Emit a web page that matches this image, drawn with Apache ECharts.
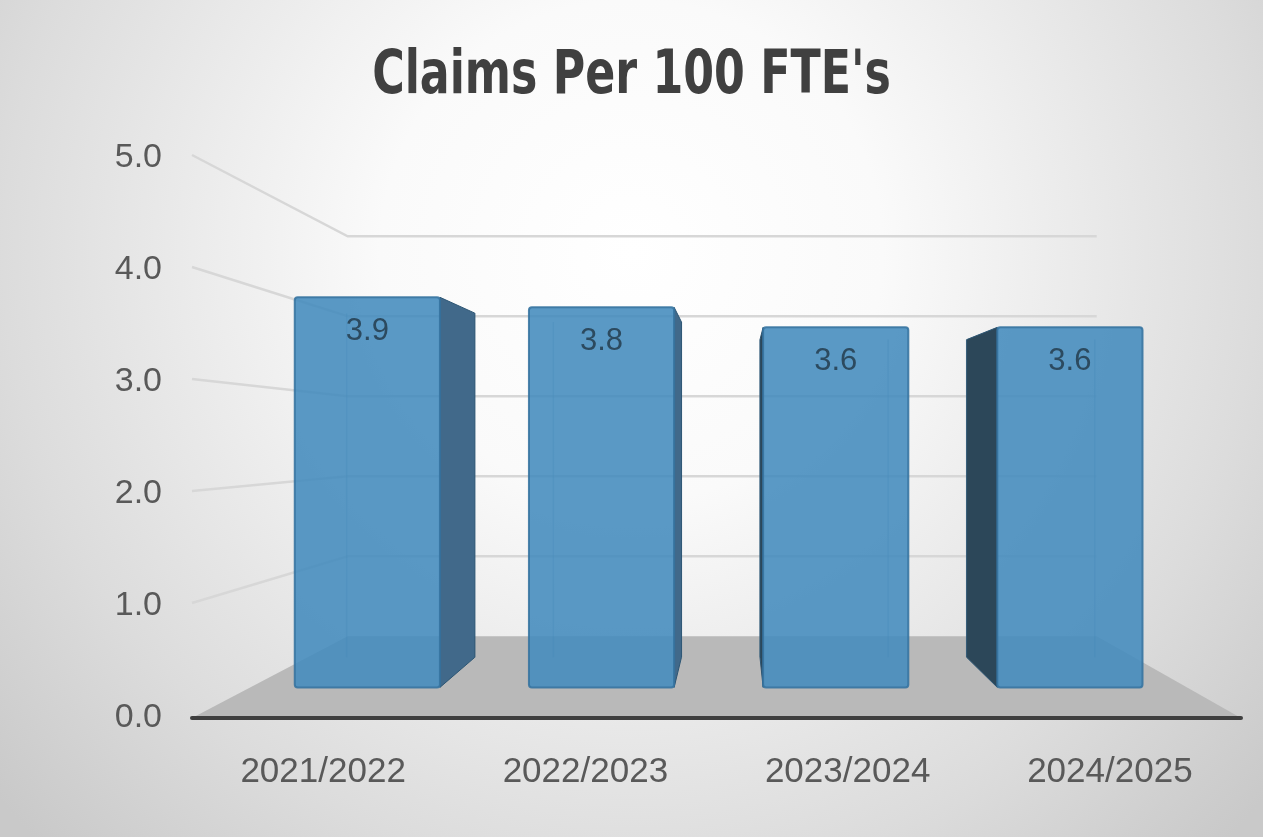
<!DOCTYPE html>
<html>
<head>
<meta charset="utf-8">
<title>Claims Per 100 FTE's</title>
<script src="https://cdn.jsdelivr.net/npm/echarts@6/dist/echarts.min.js"></script>
<style>
  html, body { margin: 0; padding: 0; }
  #chart { width: 1263px; height: 837px; }
</style>
</head>
<body>
<div id="chart"></div>
<script>
var categories = ["2021/2022", "2022/2023", "2023/2024", "2024/2025"];
var claims = [3.9, 3.8, 3.6, 3.6];
var yTicks = [0, 1, 2, 3, 4, 5];
var titleText = "Claims Per 100 FTE's";

// fake 3d: vanishing point (fraction of the grid) and depth factors
var VP = [0.519, 0.489];
var BAR_FRONT = 0.893;
var BAR_BACK = 0.788;
var WALL = 0.714;
var labelFont = '"Liberation Sans", Arial, sans-serif';

function proj(rect, x, y, s) {
  var vx = rect.x + rect.width * VP[0];
  var vy = rect.y + rect.height * VP[1];
  return [vx + (x - vx) * s, vy + (y - vy) * s];
}

function renderWall(params, api) {
  var rect = params.coordSys;
  var v = api.value(1);
  var y = api.coord([0, v])[1];
  var left = rect.x;
  var right = rect.x + rect.width;
  var bl = proj(rect, left, y, WALL);
  var br = proj(rect, right, y, WALL);
  if (v === yTicks[0]) {
    return {
      type: "polygon",
      shape: { points: [[left, y], [right, y], br, bl] },
      style: { fill: "#b9b9b9" }
    };
  }
  return {
    type: "polyline",
    shape: { points: [[left, y - 3], bl, br] },
    style: { stroke: "#d7d7d7", lineWidth: 2.5, fill: null }
  };
}

function renderBar(params, api) {
  var rect = params.coordSys;
  var idx = api.value(0);
  var val = api.value(1);
  var top = api.coord([idx, val]);
  var base = api.coord([idx, 0]);
  var half = api.size([1, 0])[0] * 0.31;
  var xl = top[0] - half, xr = top[0] + half;
  var yt = top[1], yb = base[1];
  var vx = rect.x + rect.width * VP[0];

  var ftl = proj(rect, xl, yt, BAR_FRONT);
  var fbr = proj(rect, xr, yb, BAR_FRONT);
  var btl = proj(rect, xl, yt, BAR_BACK);
  var bbr = proj(rect, xr, yb, BAR_BACK);

  var children = [];
  // back edges, seen faintly through the front face
  children.push({
    type: "polyline",
    shape: { points: [[btl[0], btl[1]], [btl[0], bbr[1]]] },
    style: { stroke: "rgba(40,90,130,0.25)", lineWidth: 1.5 }
  });
  children.push({
    type: "polyline",
    shape: { points: [[bbr[0], btl[1]], [bbr[0], bbr[1]]] },
    style: { stroke: "rgba(40,90,130,0.25)", lineWidth: 1.5 }
  });
  var side = null;
  if (fbr[0] < vx) {
    side = { x: xr, color: "#41698a" };
  } else if (ftl[0] > vx) {
    side = { x: xl, color: "#2c4759" };
  }
  if (side) {
    children.push({
      type: "polygon",
      shape: {
        points: [
          proj(rect, side.x, yt, BAR_FRONT),
          proj(rect, side.x, yt, BAR_BACK),
          proj(rect, side.x, yb, BAR_BACK),
          proj(rect, side.x, yb, BAR_FRONT)
        ]
      },
      style: { fill: side.color, stroke: "#2d5674", lineWidth: 1 }
    });
  }
  children.push({
    type: "rect",
    shape: { x: ftl[0], y: ftl[1], width: fbr[0] - ftl[0], height: fbr[1] - ftl[1], r: 3 },
    style: { fill: "#438bbd", opacity: 0.88, stroke: "#35739f", lineWidth: 2 }
  });
  children.push({
    type: "text",
    style: {
      text: val.toFixed(1),
      x: (ftl[0] + fbr[0]) / 2,
      y: ftl[1] + 34,
      align: "center",
      verticalAlign: "middle",
      fill: "#2c4a5f",
      fontSize: 31,
      fontFamily: labelFont
    }
  });
  return { type: "group", children: children };
}

var chart = echarts.init(document.getElementById("chart"));
var option = {
  animation: false,
  backgroundColor: {
    type: "radial",
    x: 0.5,
    y: 0.3,
    r: 1,
    colorStops: [
      { offset: 0, color: "#ffffff" },
      { offset: 0.3, color: "#fafafa" },
      { offset: 0.75, color: "#dcdcdc" },
      { offset: 1, color: "#c9c9c9" }
    ]
  },
  graphic: [
    {
      type: "text",
      x: chart.getWidth() / 2,
      y: 47,
      scaleX: 0.82,
      style: {
        text: titleText,
        align: "center",
        verticalAlign: "top",
        fontFamily: '"DejaVu Sans Condensed", "DejaVu Sans", sans-serif',
        fontWeight: "bold",
        fontSize: 60,
        fill: "#404040"
      }
    }
  ],
  grid: { left: 192, right: 22, top: 158, bottom: 119 },
  xAxis: {
    type: "category",
    data: categories,
    z: 5,
    axisTick: { show: false },
    axisLine: { lineStyle: { color: "#3f3f3f", width: 4 } },
    axisLabel: { fontSize: 35, color: "#595959", margin: 37, fontFamily: labelFont }
  },
  yAxis: {
    type: "value",
    min: yTicks[0],
    max: yTicks[yTicks.length - 1],
    interval: yTicks[1] - yTicks[0],
    axisLine: { show: false },
    axisTick: { show: false },
    splitLine: { show: false },
    axisLabel: {
      fontSize: 34,
      color: "#595959",
      margin: 30,
      fontFamily: labelFont,
      formatter: function (v) { return v.toFixed(1); }
    }
  },
  series: [
    {
      type: "custom",
      name: "walls",
      renderItem: renderWall,
      data: yTicks.map(function (v) { return [0, v]; }),
      encode: { x: 0, y: 1 },
      silent: true,
      z: 1
    },
    {
      type: "custom",
      name: "Claims",
      renderItem: renderBar,
      data: claims.map(function (v, i) { return [categories[i], v]; }),
      encode: { x: 0, y: 1 },
      z: 3
    }
  ]
};
chart.setOption(option);
</script>
</body>
</html>
